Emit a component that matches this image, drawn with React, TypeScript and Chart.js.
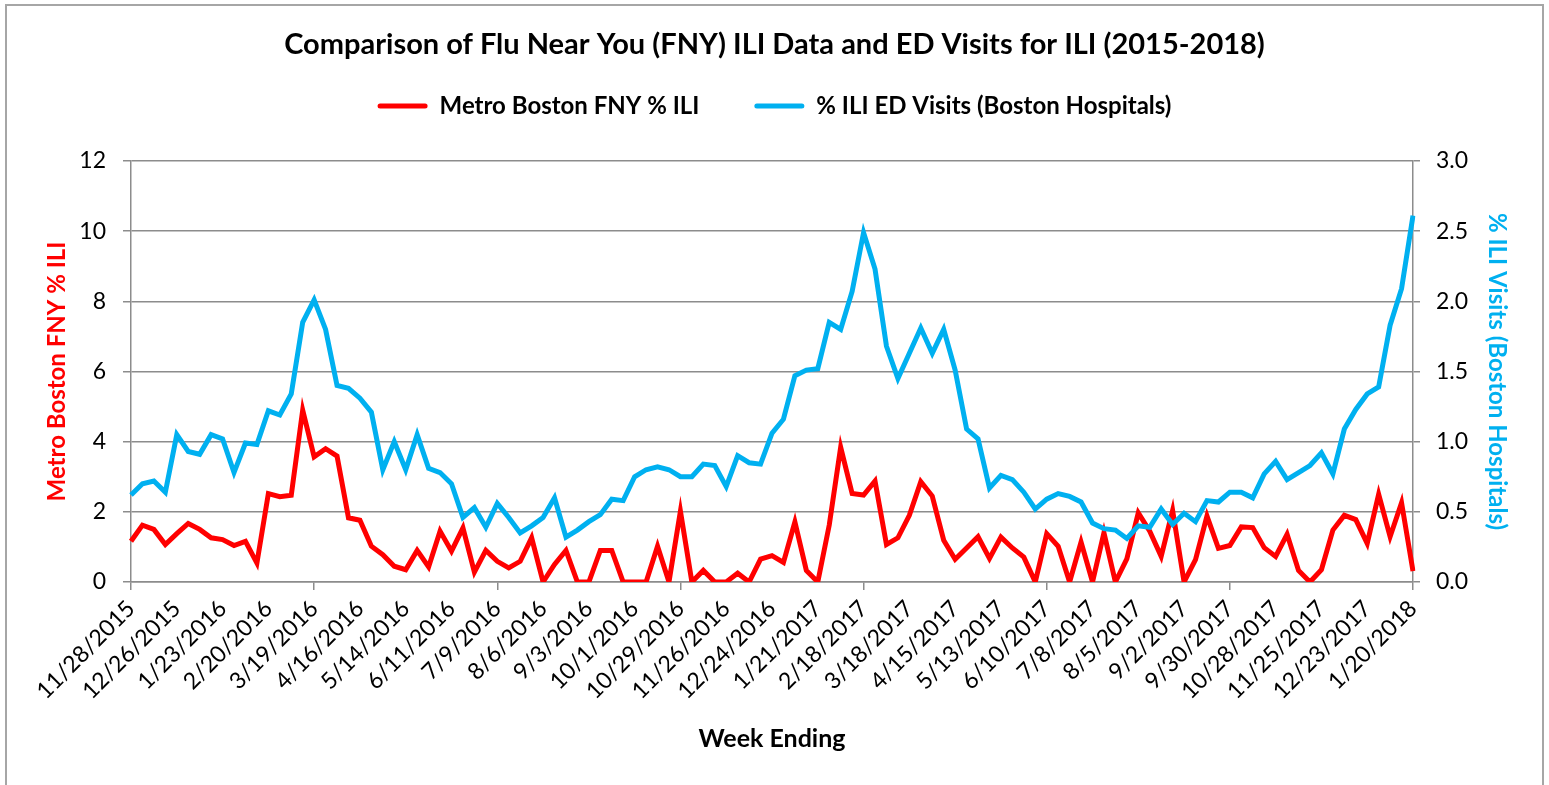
import React, { useEffect, useRef } from "react";
import { Chart, registerables } from "chart.js";

Chart.register(...registerables);

// Metro Boston FNY % ILI (left axis), weekly from 11/28/2015 to 1/20/2018
const fnyIli: number[] = [
  1.16, 1.62, 1.5, 1.07, 1.38, 1.67, 1.5, 1.26, 1.21, 1.04,
  1.16, 0.54, 2.52, 2.43, 2.47, 4.9, 3.57, 3.8, 3.59, 1.83,
  1.76, 1.02, 0.78, 0.45, 0.35, 0.9, 0.43, 1.45, 0.88, 1.54,
  0.28, 0.9, 0.59, 0.4, 0.59, 1.26, 0, 0.5, 0.9, 0,
  0, 0.9, 0.9, 0, 0, 0, 1.02, 0, 2.02, 0,
  0.33, 0, 0, 0.25, 0, 0.65, 0.75, 0.56, 1.71, 0.33,
  0, 1.62, 3.84, 2.52, 2.48, 2.88, 1.07, 1.26, 1.9, 2.86,
  2.45, 1.19, 0.65, 0.97, 1.29, 0.67, 1.28, 0.97, 0.71, 0,
  1.38, 1.02, 0, 1.14, 0, 1.4, 0, 0.66, 1.97, 1.45,
  0.73, 2.04, 0, 0.64, 1.88, 0.96, 1.04, 1.57, 1.55, 0.98,
  0.73, 1.36, 0.33, 0, 0.35, 1.48, 1.9, 1.78, 1.1, 2.5,
  1.29, 2.26, 0.31,
];

// % ILI ED Visits (Boston Hospitals) (right axis)
const edIli: number[] = [
  0.62, 0.7, 0.72, 0.64, 1.05, 0.93, 0.91, 1.05, 1.02, 0.78,
  0.99, 0.98, 1.22, 1.19, 1.34, 1.85, 2.01, 1.8, 1.4, 1.38,
  1.31, 1.21, 0.8, 1.0, 0.8, 1.05, 0.81, 0.78, 0.7, 0.46,
  0.53, 0.39, 0.56, 0.46, 0.35, 0.4, 0.46, 0.6, 0.32, 0.37,
  0.43, 0.48, 0.59, 0.58, 0.75, 0.8, 0.82, 0.8, 0.75, 0.75,
  0.84, 0.83, 0.68, 0.9, 0.85, 0.84, 1.06, 1.16, 1.47, 1.51,
  1.52, 1.85, 1.8, 2.07, 2.49, 2.23, 1.68, 1.45, 1.63, 1.81,
  1.63, 1.8, 1.51, 1.09, 1.02, 0.67, 0.76, 0.73, 0.64, 0.52,
  0.59, 0.63, 0.61, 0.57, 0.42, 0.38, 0.37, 0.31, 0.4, 0.39,
  0.52, 0.41, 0.49, 0.43, 0.58, 0.57, 0.64, 0.64, 0.6, 0.77,
  0.86, 0.73, 0.78, 0.83, 0.92, 0.77, 1.09, 1.23, 1.34, 1.39,
  1.83, 2.09, 2.61,
];

// Week-ending dates (categories), one per week starting 11/28/2015
const weekEnding: string[] = fnyIli.map((_, i) => {
  const d = new Date(2015, 10, 28 + 7 * i);
  return `${d.getMonth() + 1}/${d.getDate()}/${d.getFullYear()}`;
});

const TITLE = "Comparison of Flu Near You (FNY) ILI Data and ED Visits for ILI (2015-2018)";
const SERIES_RED = "Metro Boston FNY % ILI";
const SERIES_BLUE = "% ILI ED Visits (Boston Hospitals)";
const RED = "#FF0000";
const BLUE = "#00B0F0";
const GRID = "#8c8c8c";
const FONT = "Lato, 'Noto Sans', sans-serif";

const W = 1549;
const H = 785;

const frame = {
  id: "frame",
  beforeDraw(chart: any) {
    const ctx = chart.ctx;
    ctx.save();
    ctx.fillStyle = "#ffffff";
    ctx.fillRect(0, 0, chart.width, chart.height);
    ctx.strokeStyle = "#a6a6a6";
    ctx.lineWidth = 2;
    ctx.strokeRect(6, 5, 1537, 900);
    ctx.restore();
  },
};

export default function App() {
  const ref = useRef<HTMLCanvasElement | null>(null);

  useEffect(() => {
    if (!ref.current) return;
    const chart = new Chart(ref.current, {
      type: "line",
      data: {
        labels: weekEnding,
        datasets: [
          {
            label: SERIES_RED,
            data: fnyIli,
            borderColor: RED,
            backgroundColor: RED,
            borderWidth: 5,
            pointRadius: 0,
            tension: 0,
            yAxisID: "y",
            order: 2,
          },
          {
            label: SERIES_BLUE,
            data: edIli,
            borderColor: BLUE,
            backgroundColor: BLUE,
            borderWidth: 5,
            pointRadius: 0,
            tension: 0,
            yAxisID: "y1",
            order: 1,
          },
        ],
      },
      options: {
        responsive: false,
        animation: false,
        devicePixelRatio: 1,
        layout: { padding: 0 },
        plugins: {
          title: {
            display: true,
            text: TITLE,
            color: "#000",
            font: { family: FONT, size: 29, weight: "bold", lineHeight: 1.2 },
            padding: { top: 27.6, bottom: -23.4 },
          },
          subtitle: {
            display: true,
            text: "",
            font: { family: FONT, size: 10, lineHeight: 1 },
            padding: { top: 0, bottom: 23 },
          },
          legend: {
            display: true,
            position: "top",
            weight: 1800,
            labels: {
              color: "#000",
              font: { family: FONT, size: 24, weight: "bold" },
              boxWidth: 50,
              boxHeight: 5,
              padding: 55,
              useBorderRadius: true,
              borderRadius: 2.5,
              sort: (a: any, b: any) => a.datasetIndex - b.datasetIndex,
              generateLabels: (c: any) =>
                Chart.defaults.plugins.legend.labels
                  .generateLabels(c)
                  .map((l: any) => ({ ...l, lineWidth: 0, fillStyle: l.strokeStyle })),
            },
          },
          tooltip: { enabled: false },
        },
        scales: {
          x: {
            type: "category",
            offset: false,
            grid: {
              drawOnChartArea: false,
              drawTicks: true,
              tickLength: 8,
              lineWidth: 1.5,
              color: (ctx: any) => (ctx.index % 4 === 0 ? GRID : "rgba(0,0,0,0)"),
            },
            border: { display: true, color: GRID, width: 1.5 },
            ticks: {
              autoSkip: false,
              maxRotation: 45,
              minRotation: 45,
              padding: 5,
              color: "#000",
              font: { family: FONT, size: 23 },
              callback: (_v: any, i: number) => (i % 4 === 0 ? weekEnding[i] : null),
            },
            title: {
              display: true,
              text: "Week Ending",
              color: "#000",
              font: { family: FONT, size: 25, weight: "bold", lineHeight: 1.2 },
              padding: { top: 0, bottom: 31 },
            },
            afterFit: (s: any) => {
              s.height = 203;
            },
          },
          y: {
            position: "left",
            min: 0,
            max: 12,
            ticks: {
              stepSize: 2,
              padding: 17,
              color: "#000",
              font: { family: FONT, size: 23 },
            },
            grid: { color: GRID, lineWidth: 1.5, tickLength: 8 },
            border: { display: true, color: GRID, width: 1.5 },
            title: {
              display: true,
              text: "Metro Boston FNY % ILI",
              color: RED,
              font: { family: FONT, size: 24, weight: "bold", lineHeight: 1.2 },
              padding: { top: 42.6, bottom: 0 },
            },
            afterFit: (s: any) => {
              s.width = 131;
            },
          },
          y1: {
            position: "right",
            min: 0,
            max: 3,
            ticks: {
              stepSize: 0.5,
              padding: 16,
              color: "#000",
              font: { family: FONT, size: 23 },
              callback: (v: any) => Number(v).toFixed(1),
            },
            grid: { drawOnChartArea: false, color: GRID, lineWidth: 1.5, tickLength: 7 },
            border: { display: true, color: GRID, width: 1.5 },
            title: {
              display: true,
              text: "% ILI Visits (Boston Hospitals)",
              color: BLUE,
              font: { family: FONT, size: 24, weight: "bold", lineHeight: 1.2 },
              padding: { top: 37.6, bottom: 0 },
            },
            afterFit: (s: any) => {
              s.width = 136;
            },
          },
        },
      },
      plugins: [frame],
    } as any);
    return () => chart.destroy();
  }, []);

  return (
    <div style={{ position: "absolute", left: 0, top: 0, width: W, height: H, background: "#fff" }}>
      <canvas ref={ref} width={W} height={H} style={{ display: "block", width: W, height: H }} />
    </div>
  );
}
